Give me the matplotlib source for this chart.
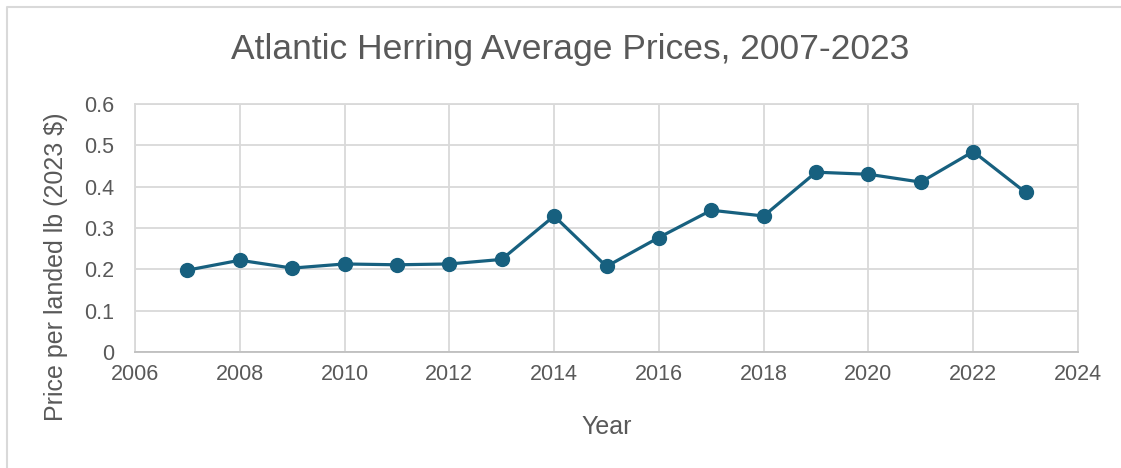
import matplotlib.pyplot as plt
from matplotlib.lines import Line2D
from matplotlib.ticker import FuncFormatter

years = [2007, 2008, 2009, 2010, 2011, 2012, 2013, 2014, 2015,
         2016, 2017, 2018, 2019, 2020, 2021, 2022, 2023]
prices = [0.198, 0.222, 0.203, 0.213, 0.211, 0.213, 0.224, 0.329, 0.207,
          0.277, 0.343, 0.329, 0.435, 0.430, 0.411, 0.485, 0.386]

txt = '#595959'
grid = '#d9d9d9'
line_c = '#17607f'

plt.rcParams['font.family'] = ['Liberation Sans', 'DejaVu Sans']

W, H = 1121, 468
fig = plt.figure(figsize=(W / 100, H / 100), dpi=100)
# outer chart frame (only top and left edges are visible)
fig.lines.append(Line2D([7 / W, 7 / W, 1], [0, 1 - 6.5 / H, 1 - 6.5 / H],
                        transform=fig.transFigure, color='#d9d9d9', linewidth=1.5))
ax = fig.add_axes([135 / W, 1 - 352 / H, (1078 - 135) / W, (352 - 104) / H])

ax.plot(years, prices, color=line_c, linewidth=2.3, marker='o', markersize=10,
        zorder=3, clip_on=False)

ax.set_xlim(2006, 2024)
ax.set_ylim(0, 0.6)
ax.set_xticks(range(2006, 2025, 2))
ax.set_yticks([0, 0.1, 0.2, 0.3, 0.4, 0.5, 0.6])
ax.yaxis.set_major_formatter(FuncFormatter(lambda v, p: '0' if v == 0 else f'{v:.1f}'))
ax.grid(True, color=grid, linewidth=1.3)
ax.set_axisbelow(True)
for s in ax.spines.values():
    s.set_color(grid)
    s.set_linewidth(1.3)
ax.spines['bottom'].set_color('#bfbfbf')
ax.tick_params(length=0, labelsize=15.5, colors=txt)
ax.tick_params(axis='y', pad=15)
ax.tick_params(axis='x', pad=9)

fig.text(570 / W, 1 - 50 / H, 'Atlantic Herring Average Prices, 2007-2023',
         fontsize=25.5, color=txt, ha='center', va='center')
ax.set_xlabel('Year', fontsize=18, color=txt, labelpad=21)
ax.set_ylabel('Price per landed lb (2023 $)', fontsize=18, color=txt)
ax.yaxis.set_label_coords((68 - 135) / (1078 - 135), 0.343)

fig.savefig('out.png', dpi=100)
